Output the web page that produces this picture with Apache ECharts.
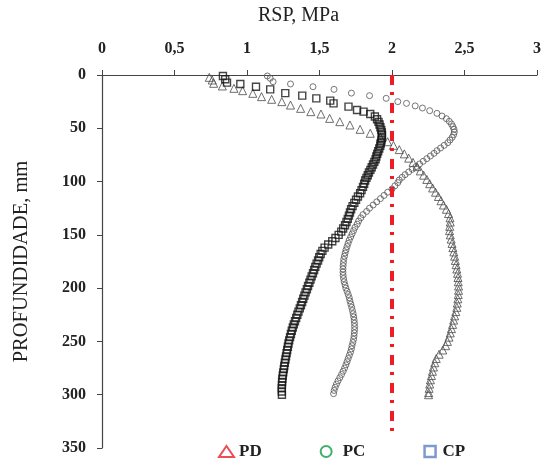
<!DOCTYPE html>
<html>
<head>
<meta charset="utf-8">
<script src="https://cdn.jsdelivr.net/npm/echarts@6/dist/echarts.min.js"></script>
<style>
  html, body { margin: 0; padding: 0; background: #fff; }
  #chart { width: 547px; height: 459px; }
</style>
</head>
<body>
<div id="chart"></div>
<script>
// RSP (MPa) read per depth (mm) for each treatment
var pdDepth = [2.2, 4.7, 7.8, 10.3, 12.5, 14.7, 17.2, 20.3, 22.8, 25, 28.2, 31.3, 34.4, 36.6, 40.7, 43.8, 46.9, 51, 54.7, 58.5, 62.6,
  66, 70, 74, 78, 82, 86, 90, 94, 98, 102, 106, 110, 114, 118, 122, 126, 130, 134, 138, 142, 146, 150, 154, 158, 162, 166,
  170, 174, 178, 182, 186, 190, 194, 198, 202, 206, 210, 214, 218, 222, 226, 230, 234, 238, 242, 246, 250, 254, 258, 262,
  266, 270, 274, 278, 282, 286, 290, 294, 298, 300];
var pdRsp = [0.74, 0.76, 0.77, 0.83, 0.91, 0.97, 1.04, 1.10, 1.17, 1.24, 1.30, 1.37, 1.44, 1.51, 1.57, 1.64, 1.71, 1.78, 1.85, 1.92, 1.97,
  2.01, 2.05, 2.085, 2.115, 2.145, 2.172, 2.195, 2.218, 2.24, 2.26, 2.28, 2.30, 2.32, 2.338, 2.355, 2.375, 2.39, 2.40, 2.402, 2.398,
  2.397, 2.402, 2.408, 2.414, 2.42, 2.426, 2.432, 2.437, 2.442, 2.447, 2.452, 2.455, 2.457, 2.459, 2.459, 2.457, 2.454, 2.45,
  2.447, 2.44, 2.432, 2.425, 2.418, 2.41, 2.402, 2.393, 2.382, 2.37, 2.35, 2.325, 2.305, 2.295, 2.286, 2.279, 2.272, 2.265,
  2.26, 2.256, 2.253, 2.252];

var pcDepth = [0.9, 3.1, 6.3, 8.4, 11, 13.5, 17, 19.4, 21.9, 25, 26.6, 29, 31, 33.5, 36, 38.5, 41, 43.5, 46, 48.5, 51, 53.5, 56,
  58.5, 61, 63.5, 66, 68.5, 71, 73.5, 76, 78.5, 81, 83.5, 86, 88.5, 91, 93.5, 96, 98.5,
  101, 104, 107, 110, 113, 116, 119, 122, 125, 128, 131, 134, 137, 140, 143, 146, 149, 152, 155, 158, 161, 164, 167, 170,
  173, 176, 179, 182, 185, 188, 191, 194, 197, 200, 203, 206, 209, 212, 215, 218, 221, 224, 227, 230, 233, 236, 239, 242,
  245, 248, 251, 254, 257, 260, 263, 266, 269, 272, 275, 278, 281, 284, 287, 290, 293, 296, 299];
var pcRsp = [1.14, 1.16, 1.18, 1.30, 1.455, 1.60, 1.72, 1.845, 1.96, 2.04, 2.10, 2.16, 2.21, 2.26, 2.31, 2.345, 2.375, 2.395,
  2.41, 2.42, 2.428, 2.43, 2.425, 2.415, 2.40, 2.385, 2.36, 2.335, 2.31, 2.29, 2.265, 2.24, 2.215, 2.19, 2.165, 2.14, 2.115,
  2.09, 2.07, 2.05,
  2.04, 2.02, 2.00, 1.97, 1.945, 1.92, 1.895, 1.87, 1.845, 1.825, 1.80, 1.785, 1.77, 1.76, 1.745, 1.735, 1.725, 1.715, 1.705,
  1.697, 1.69, 1.683, 1.677, 1.672, 1.667, 1.665, 1.663, 1.662, 1.662, 1.663, 1.666, 1.67, 1.676, 1.682, 1.69, 1.698, 1.705,
  1.71, 1.716, 1.722, 1.727, 1.732, 1.736, 1.739, 1.741, 1.742, 1.742, 1.74, 1.738, 1.735, 1.73, 1.724, 1.72, 1.714, 1.706,
  1.698, 1.69, 1.682, 1.673, 1.663, 1.652, 1.64, 1.628, 1.617, 1.608, 1.601, 1.597];

var cpDepth = [0.9, 4, 7.2, 8.4, 11, 13.5, 17, 19.4, 21.9, 24, 26.6, 29.7, 32.8, 34.4, 36.6, 39, 41.5, 44, 46.5, 49, 51.5, 54,
  56.5, 59, 61.5, 64, 66.5, 69, 71.5, 74, 76.5, 79, 81.5, 84, 86.5, 89, 91.5, 94, 96.5, 99,
  102, 105, 108, 111, 114, 117, 120, 123, 126, 129, 132, 135, 138, 141, 144, 147, 150, 153, 156, 159, 162, 165, 168, 171,
  174, 177, 180, 183, 186, 189, 192, 195, 198, 201, 204, 207, 210, 213, 216, 219, 222, 225, 228, 231, 234, 237, 240, 243,
  246, 249, 252, 255, 258, 261, 264, 267, 270, 273, 276, 279, 282, 285, 288, 291, 294, 297, 300];
var cpRsp = [0.834, 0.85, 0.862, 0.954, 1.062, 1.16, 1.264, 1.381, 1.478, 1.574, 1.597, 1.70, 1.759, 1.804, 1.85, 1.882, 1.897,
  1.907, 1.914, 1.92, 1.926, 1.93, 1.931, 1.93, 1.927, 1.923, 1.919, 1.912, 1.905, 1.898, 1.892, 1.887, 1.878, 1.869, 1.86,
  1.851, 1.841, 1.833, 1.824, 1.815,
  1.808, 1.80, 1.79, 1.78, 1.765, 1.752, 1.74, 1.728, 1.718, 1.71, 1.703, 1.695, 1.686, 1.676, 1.663, 1.65, 1.632, 1.61,
  1.588, 1.56, 1.535, 1.52, 1.508, 1.498, 1.49, 1.48, 1.471, 1.463, 1.455, 1.446, 1.438, 1.43, 1.421, 1.413, 1.404, 1.396,
  1.388, 1.38, 1.372, 1.364, 1.355, 1.347, 1.339, 1.331, 1.323, 1.316, 1.309, 1.303, 1.297, 1.291, 1.286, 1.282, 1.277,
  1.273, 1.269, 1.265, 1.261, 1.257, 1.254, 1.25, 1.247, 1.244, 1.242, 1.241, 1.24, 1.24, 1.241];

// reference line at 2 MPa
var refRsp = [2, 2];
var refDepth = [0, 335];

function zip(xs, ys) {
  return xs.map(function (x, i) { return [x, ys[i]]; });
}

var serif = 'Liberation Serif';
var chart = echarts.init(document.getElementById('chart'));

chart.setOption({
  animation: false,
  grid: { left: 102, top: 75, right: 10, bottom: 11 },
  legend: {
    top: 438,
    left: 213,
    itemGap: 58,
    itemWidth: 15,
    itemHeight: 11,
    textStyle: { fontFamily: serif, fontWeight: 'bold', fontSize: 17, color: '#222' },
    data: [
      { name: 'PD', icon: 'triangle', itemStyle: { color: '#fff', borderColor: '#e8202a', borderWidth: 2 } },
      { name: 'PC', icon: 'circle', itemStyle: { color: '#fff', borderColor: '#109a48', borderWidth: 2 },
        textStyle: { padding: [0, 0, 0, 4] } },
      { name: 'CP', icon: 'path://M0,0H10V10H0Z', itemStyle: { color: '#fff', borderColor: '#5b7fc4', borderWidth: 2.5 } }
    ]
  },
  xAxis: {
    type: 'value',
    position: 'top',
    min: 0,
    max: 3,
    interval: 0.5,
    name: 'RSP, MPa',
    nameLocation: 'middle',
    nameGap: 49,
    nameTextStyle: { fontFamily: serif, fontSize: 20, color: '#222', padding: [0, 42, 0, 0] },
    axisLine: { show: true, lineStyle: { color: '#444', width: 1.2 } },
    axisTick: { show: true, length: 5, lineStyle: { color: '#444' } },
    axisLabel: {
      margin: 18,
      fontFamily: serif, fontWeight: 'bold', fontSize: 16, color: '#222',
      formatter: function (v) { return String(v).replace('.', ','); }
    },
    splitLine: { show: false }
  },
  yAxis: {
    type: 'value',
    inverse: true,
    min: 0,
    max: 350,
    interval: 50,
    name: 'PROFUNDIDADE, mm',
    nameLocation: 'middle',
    nameGap: 70,
    nameTextStyle: { fontFamily: serif, fontSize: 20.5, color: '#222' },
    axisLine: { show: true, lineStyle: { color: '#444', width: 1.2 } },
    axisTick: { show: true, length: 5, lineStyle: { color: '#444' } },
    axisLabel: { margin: 16, fontFamily: serif, fontWeight: 'bold', fontSize: 16, color: '#222' },
    splitLine: { show: false }
  },
  series: [
    {
      name: 'PD', type: 'scatter', symbol: 'triangle', symbolSize: 8,
      itemStyle: { color: 'rgba(0,0,0,0)', borderColor: '#4a4a4a', borderWidth: 1 },
      data: zip(pdRsp, pdDepth)
    },
    {
      name: 'PC', type: 'scatter', symbol: 'circle', symbolSize: 6,
      itemStyle: { color: 'rgba(0,0,0,0)', borderColor: '#555', borderWidth: 1 },
      data: zip(pcRsp, pcDepth)
    },
    {
      name: 'CP', type: 'scatter', symbol: 'rect', symbolSize: 7,
      itemStyle: { color: 'rgba(0,0,0,0)', borderColor: '#161616', borderWidth: 1.4 },
      data: zip(cpRsp, cpDepth)
    },
    {
      name: 'ref', type: 'line', symbol: 'none', silent: true, z: 5,
      lineStyle: { color: '#ee1c25', width: 4, type: [10, 7, 3, 8] },
      data: zip(refRsp, refDepth)
    }
  ]
});
</script>
</body>
</html>
